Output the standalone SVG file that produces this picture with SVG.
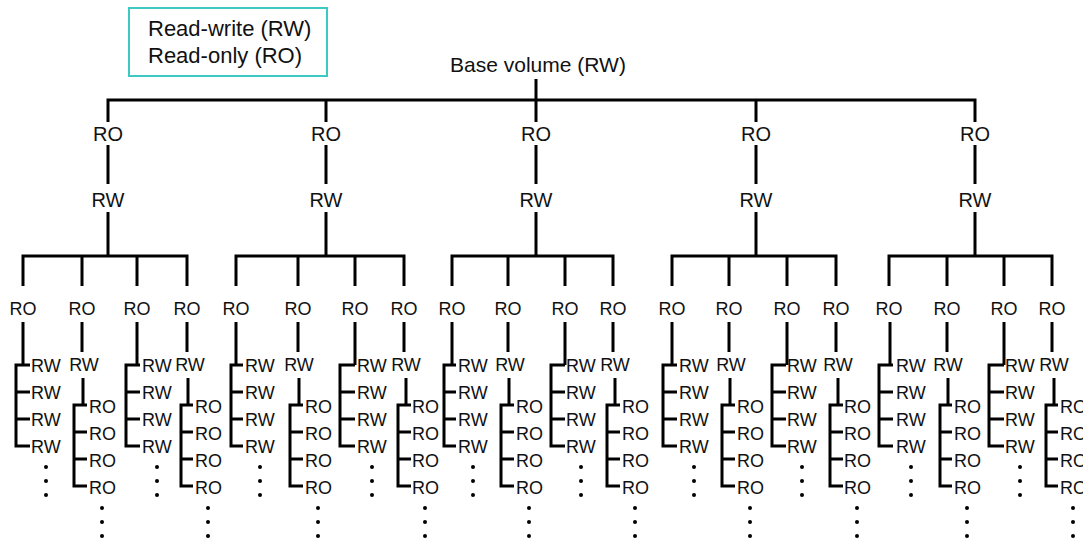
<svg xmlns="http://www.w3.org/2000/svg" width="1083" height="539" viewBox="0 0 1083 539">
<style>
.ln{fill:none;stroke:#000;stroke-width:3;stroke-linejoin:miter}
text{font-family:"Liberation Sans",Arial,sans-serif;fill:#111}
.t0{font-size:21px}
.tl{font-size:22px}
.t1{font-size:20px;text-anchor:middle}
.t2{font-size:18px;text-anchor:middle}
.t3{font-size:18px}
.dot{fill:#000}
.legend{fill:#fff;stroke:#3cc9c1;stroke-width:2}
</style>
<defs>
<g id="listRW">
<text class="t3" x="0" y="372">RW</text>
<text class="t3" x="0" y="399">RW</text>
<text class="t3" x="0" y="426">RW</text>
<text class="t3" x="0" y="453">RW</text>
<circle class="dot" cx="15" cy="467" r="2"/>
<circle class="dot" cx="15" cy="481" r="2"/>
<circle class="dot" cx="15" cy="495" r="2"/>
</g>
<g id="listRO">
<text class="t3" x="0" y="413">RO</text>
<text class="t3" x="0" y="440">RO</text>
<text class="t3" x="0" y="467">RO</text>
<text class="t3" x="0" y="494">RO</text>
<circle class="dot" cx="13" cy="508" r="2"/>
<circle class="dot" cx="13" cy="522" r="2"/>
<circle class="dot" cx="13" cy="536" r="2"/>
</g>
</defs>
<rect width="1083" height="539" fill="#fff"/>

<g id="legend">
<rect class="legend" x="129" y="8" width="198" height="68"/>
<text class="tl" x="148" y="36">Read-write (RW)</text>
<text class="tl" x="148" y="63">Read-only (RO)</text>
</g>

<g id="base"><text class="t0" x="538" y="72" text-anchor="middle">Base volume (RW)</text></g>

<g id="connectors" class="ln">
<path d="M536,79V100M108,122V100H975V122M326,100V122M536,100V122M756,100V122"/>
<path d="M108,145V184M108,212V256M326,145V184M326,212V256M536,145V184M536,212V256M756,145V184M756,212V256M975,145V184M975,212V256"/>
<path d="M23,286V256H187V286M82,256V286M137,256V286"/>
<path d="M236,286V256H404V286M298,256V286M355,256V286"/>
<path d="M452,286V256H613V286M508,256V286M565,256V286"/>
<path d="M672,286V256H836V286M729,256V286M787,256V286"/>
<path d="M889,286V256H1052V286M947,256V286M1004,256V286"/>
<path d="M23,322V365M30,365H16V446H30M16,392H30M16,419H30"/>
<path d="M82,322V352M83,378V405M87,405H74V486H87M74,432H87M74,459H87"/>
<path d="M137,322V365M140,365H126V446H140M126,392H140M126,419H140"/>
<path d="M187,322V352M188,378V405M193,405H181V486H193M181,432H193M181,459H193"/>
<path d="M236,322V365M243,365H231V446H243M231,392H243M231,419H243"/>
<path d="M298,322V352M299,378V405M303,405H290V486H303M290,432H303M290,459H303"/>
<path d="M355,322V365M355,365H340V446H355M340,392H355M340,419H355"/>
<path d="M404,322V352M406,378V405M411,405H398V486H411M398,432H411M398,459H411"/>
<path d="M452,322V365M456,365H444V446H456M444,392H456M444,419H456"/>
<path d="M508,322V352M509,378V405M514,405H501V486H514M501,432H514M501,459H514"/>
<path d="M565,322V365M565,365H551V446H565M551,392H565M551,419H565"/>
<path d="M613,322V352M615,378V405M620,405H607V486H620M607,432H620M607,459H620"/>
<path d="M672,322V365M677,365H663V446H677M663,392H677M663,419H677"/>
<path d="M729,322V352M730,378V405M735,405H722V486H735M722,432H735M722,459H735"/>
<path d="M787,322V365M786,365H772V446H786M772,392H786M772,419H786"/>
<path d="M836,322V352M838,378V405M843,405H830V486H843M830,432H843M830,459H843"/>
<path d="M890,322V365M893,365H879V446H893M879,392H893M879,419H893"/>
<path d="M947,322V352M948,378V405M952,405H940V486H952M940,432H952M940,459H952"/>
<path d="M1004,322V365M1004,365H989V446H1004M989,392H1004M989,419H1004"/>
<path d="M1052,322V352M1054,378V405M1058,405H1046V486H1058M1046,432H1058M1046,459H1058"/>
</g>

<g id="g1-ro"><text class="t1" x="108" y="141">RO</text></g>
<g id="g1-rw"><text class="t1" x="108" y="207">RW</text></g>
<g id="g1c1-ro"><text class="t2" x="23" y="315">RO</text></g>
<g id="g1c1-list"><use href="#listRW" x="31"/></g>
<g id="g1c2-ro"><text class="t2" x="82" y="315">RO</text></g>
<g id="g1c2-rw"><text class="t2" x="84" y="371">RW</text></g>
<g id="g1c2-list"><use href="#listRO" x="89"/></g>
<g id="g1c3-ro"><text class="t2" x="137" y="315">RO</text></g>
<g id="g1c3-list"><use href="#listRW" x="142"/></g>
<g id="g1c4-ro"><text class="t2" x="187" y="315">RO</text></g>
<g id="g1c4-rw"><text class="t2" x="190" y="371">RW</text></g>
<g id="g1c4-list"><use href="#listRO" x="195"/></g>

<g id="g2-ro"><text class="t1" x="326" y="141">RO</text></g>
<g id="g2-rw"><text class="t1" x="326" y="207">RW</text></g>
<g id="g2c1-ro"><text class="t2" x="236" y="315">RO</text></g>
<g id="g2c1-list"><use href="#listRW" x="245"/></g>
<g id="g2c2-ro"><text class="t2" x="298" y="315">RO</text></g>
<g id="g2c2-rw"><text class="t2" x="299" y="371">RW</text></g>
<g id="g2c2-list"><use href="#listRO" x="305"/></g>
<g id="g2c3-ro"><text class="t2" x="355" y="315">RO</text></g>
<g id="g2c3-list"><use href="#listRW" x="357"/></g>
<g id="g2c4-ro"><text class="t2" x="404" y="315">RO</text></g>
<g id="g2c4-rw"><text class="t2" x="406" y="371">RW</text></g>
<g id="g2c4-list"><use href="#listRO" x="412"/></g>

<g id="g3-ro"><text class="t1" x="536" y="141">RO</text></g>
<g id="g3-rw"><text class="t1" x="536" y="207">RW</text></g>
<g id="g3c1-ro"><text class="t2" x="452" y="315">RO</text></g>
<g id="g3c1-list"><use href="#listRW" x="458"/></g>
<g id="g3c2-ro"><text class="t2" x="508" y="315">RO</text></g>
<g id="g3c2-rw"><text class="t2" x="510" y="371">RW</text></g>
<g id="g3c2-list"><use href="#listRO" x="516"/></g>
<g id="g3c3-ro"><text class="t2" x="565" y="315">RO</text></g>
<g id="g3c3-list"><use href="#listRW" x="566"/></g>
<g id="g3c4-ro"><text class="t2" x="613" y="315">RO</text></g>
<g id="g3c4-rw"><text class="t2" x="615" y="371">RW</text></g>
<g id="g3c4-list"><use href="#listRO" x="622"/></g>

<g id="g4-ro"><text class="t1" x="756" y="141">RO</text></g>
<g id="g4-rw"><text class="t1" x="756" y="207">RW</text></g>
<g id="g4c1-ro"><text class="t2" x="672" y="315">RO</text></g>
<g id="g4c1-list"><use href="#listRW" x="679"/></g>
<g id="g4c2-ro"><text class="t2" x="729" y="315">RO</text></g>
<g id="g4c2-rw"><text class="t2" x="731" y="371">RW</text></g>
<g id="g4c2-list"><use href="#listRO" x="737"/></g>
<g id="g4c3-ro"><text class="t2" x="787" y="315">RO</text></g>
<g id="g4c3-list"><use href="#listRW" x="787"/></g>
<g id="g4c4-ro"><text class="t2" x="836" y="315">RO</text></g>
<g id="g4c4-rw"><text class="t2" x="838" y="371">RW</text></g>
<g id="g4c4-list"><use href="#listRO" x="844"/></g>

<g id="g5-ro"><text class="t1" x="975" y="141">RO</text></g>
<g id="g5-rw"><text class="t1" x="975" y="207">RW</text></g>
<g id="g5c1-ro"><text class="t2" x="889" y="315">RO</text></g>
<g id="g5c1-list"><use href="#listRW" x="896"/></g>
<g id="g5c2-ro"><text class="t2" x="947" y="315">RO</text></g>
<g id="g5c2-rw"><text class="t2" x="948" y="371">RW</text></g>
<g id="g5c2-list"><use href="#listRO" x="954"/></g>
<g id="g5c3-ro"><text class="t2" x="1004" y="315">RO</text></g>
<g id="g5c3-list"><use href="#listRW" x="1005"/></g>
<g id="g5c4-ro"><text class="t2" x="1052" y="315">RO</text></g>
<g id="g5c4-rw"><text class="t2" x="1054" y="371">RW</text></g>
<g id="g5c4-list"><use href="#listRO" x="1060"/></g>
</svg>
